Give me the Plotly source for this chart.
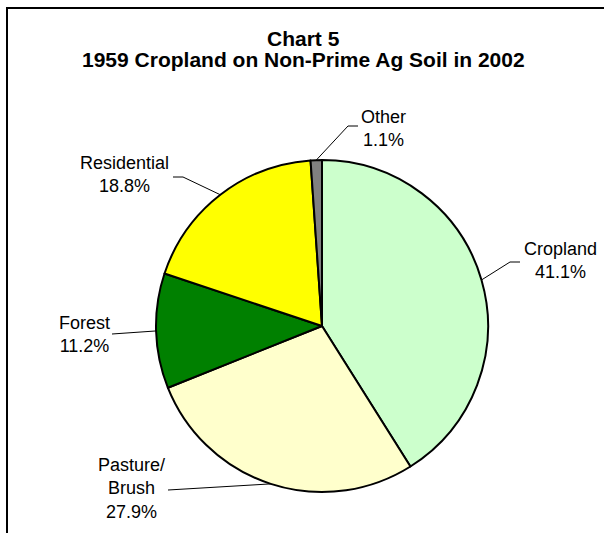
import math
import plotly.graph_objects as go

# Land use in 2002 of 1959 cropland on non-prime agricultural soil
categories = ["Cropland", "Pasture/<br>Brush", "Forest", "Residential", "Other"]
shares = [41.1, 27.9, 11.2, 18.8, 1.1]
colors = ["#CCFFCC", "#FFFFCC", "#008000", "#FFFF00", "#808080"]
title_lines = ["Chart 5", "1959 Cropland on Non-Prime Ag Soil in 2002"]

W, H = 604, 533
CX, CY, R = 322, 326, 166  # pie centre and radius in pixels

# label text centre and leader-line path (end near text, elbow) in pixels
label_layout = {
    "Cropland":          dict(text=(560, 260), end=(520, 262), elbow=(510, 262)),
    "Pasture/<br>Brush": dict(text=(131, 488), end=(168, 490), elbow=(168, 490)),
    "Forest":            dict(text=(84, 334), end=(112, 334), elbow=(112, 334)),
    "Residential":       dict(text=(124, 175), end=(173, 177), elbow=(183, 177)),
    "Other":             dict(text=(383, 128), end=(358, 126), elbow=(348, 126)),
}
FONT = "Liberation Sans, Arial, sans-serif"


def px(x):
    return x / W


def py(y):
    return 1 - y / H


fig = go.Figure(
    go.Pie(
        labels=categories,
        values=shares,
        marker=dict(colors=colors, line=dict(color="#000000", width=2)),
        sort=False,
        direction="clockwise",
        rotation=0,
        textinfo="none",
        hoverinfo="label+percent",
        showlegend=False,
        domain=dict(x=[px(CX - R), px(CX + R)], y=[py(CY + R), py(CY - R)]),
    )
)

shapes = []
annotations = []
total = sum(shares)
cum = 0.0
for name, val in zip(categories, shares):
    mid = (cum + val / 2) / total * 2 * math.pi
    cum += val
    ax = CX + R * math.sin(mid)
    ay = CY - R * math.cos(mid)
    lay = label_layout[name]
    ex, ey = lay["elbow"]
    tx, ty = lay["end"]
    path = f"M {px(ax)},{py(ay)} L {px(ex)},{py(ey)} L {px(tx)},{py(ty)}"
    shapes.append(dict(type="path", xref="paper", yref="paper", path=path,
                       line=dict(color="#000000", width=1)))
    cx, cy = lay["text"]
    annotations.append(dict(
        x=px(cx), y=py(cy), xref="paper", yref="paper",
        text=f"{name}<br>{val:.1f}%", showarrow=False,
        xanchor="center", yanchor="middle", align="center",
        font=dict(family=FONT, size=18, color="#000000"),
    ))

# chart frame (left and top edges)
shapes.append(dict(type="path", xref="paper", yref="paper",
                   path=f"M {px(7)},{py(540)} L {px(7)},{py(8)} L {px(610)},{py(8)}",
                   line=dict(color="#000000", width=2)))

# two-line bold title with tight line spacing
for line, ty in zip(title_lines, [38, 60]):
    annotations.append(dict(
        x=px(303), y=py(ty), xref="paper", yref="paper",
        text=f"<b>{line}</b>", showarrow=False,
        xanchor="center", yanchor="middle", align="center",
        font=dict(family=FONT, size=21, color="#000000"),
    ))

fig.update_layout(
    width=W, height=H,
    margin=dict(l=0, r=0, t=0, b=0),
    paper_bgcolor="#FFFFFF",
    plot_bgcolor="#FFFFFF",
    shapes=shapes,
    annotations=annotations,
)

fig.write_html("out.html")
